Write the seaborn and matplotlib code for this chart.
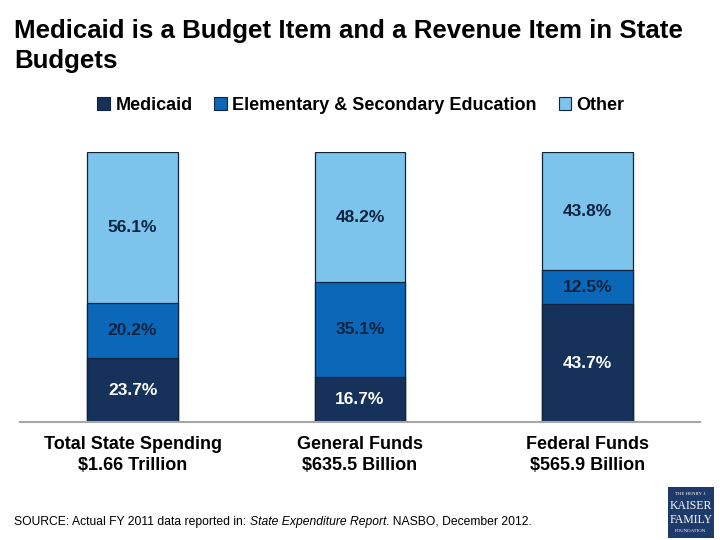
import matplotlib
matplotlib.use("Agg")
import matplotlib.pyplot as plt
import seaborn as sns
import pandas as pd
import numpy as np
from matplotlib.patches import Patch, Rectangle

categories = ["Total State Spending\n$1.66 Trillion",
              "General Funds\n$635.5 Billion",
              "Federal Funds\n$565.9 Billion"]
series = ["Medicaid", "Elementary & Secondary Education", "Other"]
medicaid = [23.7, 16.7, 43.7]
education = [20.2, 35.1, 12.5]
other = [56.1, 48.2, 43.8]

colors = {"Medicaid": "#16325a", "Elementary & Secondary Education": "#0b68b8", "Other": "#7cc4eb"}
edge = "#0d2340"
textdark = "#0d2340"

sns.set_theme(style="white")
plt.rcParams['font.family'] = ['Liberation Sans', 'DejaVu Sans']
plt.rcParams['text.color'] = 'black'

fig = plt.figure(figsize=(7.2, 5.4), dpi=100)
ax = fig.add_axes([20/720, 1-422/540, 680/720, 270/540])

df = pd.DataFrame({"cat": categories, "Medicaid": medicaid,
                   "Elementary & Secondary Education": education, "Other": other})
df["c1"] = df["Medicaid"]
df["c2"] = df["c1"] + df["Elementary & Secondary Education"]
df["c3"] = df["c2"] + df["Other"]

for col, s in [("c3", "Other"), ("c2", "Elementary & Secondary Education"), ("c1", "Medicaid")]:
    sns.barplot(data=df, x="cat", y=col, color=colors[s], width=0.4, ax=ax,
                edgecolor=edge, linewidth=0.9, saturation=1)

for i in range(len(categories)):
    bottoms = [0, medicaid[i], medicaid[i] + education[i]]
    vals = [medicaid[i], education[i], other[i]]
    for j, (b, v) in enumerate(zip(bottoms, vals)):
        ax.text(i, b + v / 2, f"{v:.1f}%", ha="center", va="center",
                fontsize=12.5, fontweight="bold",
                color="white" if j == 0 else textdark)

ax.set_xlim(-0.495, 2.495)
ax.set_ylim(0, 100)
ax.set_xlabel("")
ax.set_ylabel("")
ax.set_yticks([])
ax.set_xticks(range(3))
ax.set_xticklabels(categories, fontsize=13, fontweight="bold", color="black", linespacing=1.35)
ax.tick_params(axis="x", length=0, pad=10)
for sp in ["top", "left", "right"]:
    ax.spines[sp].set_visible(False)
ax.spines["bottom"].set_color("#a6a6a6")
ax.spines["bottom"].set_linewidth(1.5)

fig.text(14/720, 1-19/540, "Medicaid is a Budget Item and a Revenue Item in State\nBudgets",
         fontsize=18.6, fontweight="bold", ha="left", va="top", linespacing=1.32, color="black")

handles = [Patch(facecolor=colors[s], edgecolor=edge, linewidth=0.8) for s in series]
leg = fig.legend(handles, series, loc="center", bbox_to_anchor=(361/720, 1-105/540), ncol=3,
                 frameon=False, handlelength=0.7, handleheight=0.7, handletextpad=0.3,
                 columnspacing=1.2, prop={"weight": "bold", "size": 13})
for t in leg.get_texts():
    t.set_color("black")

fs = 8.7
t1 = fig.text(14/720, 1-528/540, "SOURCE: Actual FY 2011 data reported in: ", fontsize=fs,
              ha="left", va="bottom", color="black")
a2 = ax.annotate("State Expenditure Report", xy=(1, 0), xycoords=t1, fontsize=fs,
                 style="italic", ha="left", va="bottom", annotation_clip=False, color="black")
a3 = ax.annotate(". NASBO, December 2012.", xy=(1, 0), xycoords=a2, fontsize=fs,
                 ha="left", va="bottom", annotation_clip=False, color="black")

logo = Rectangle((668/720, 1-538/540), 46/720, 51/540, transform=fig.transFigure,
                 facecolor="#1e3a6b", edgecolor="none")
fig.patches.append(logo)
fig.text(691/720, 1-494/540, "THE HENRY J.", fontsize=3.5, color="white", ha="center",
         va="center", family="Liberation Serif")
fig.text(691/720, 1-506/540, "KAISER", fontsize=8.5, color="white", ha="center",
         va="center", family="Liberation Serif")
fig.text(691/720, 1-520/540, "FAMILY", fontsize=8.5, color="white", ha="center",
         va="center", family="Liberation Serif")
fig.text(691/720, 1-531/540, "FOUNDATION", fontsize=3.5, color="white", ha="center",
         va="center", family="Liberation Serif")

fig.savefig("out.png", dpi=100)
